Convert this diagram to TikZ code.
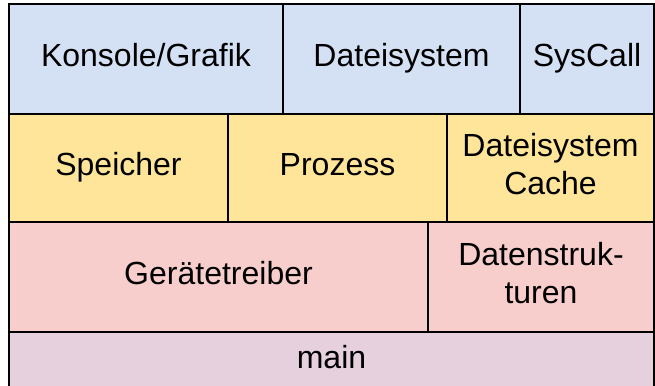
\documentclass[tikz,border=0pt]{standalone}
\usepackage{fontspec}
\setmainfont{Liberation Sans}
\definecolor{layerblue}{HTML}{D4E1F5}
\definecolor{layeryellow}{HTML}{FFE599}
\definecolor{layerpink}{HTML}{F8CECC}
\definecolor{layerviolet}{HTML}{E6D0DE}
\tikzset{
  layer/.style={draw=black, line width=2pt, rectangle, inner sep=0pt, outer sep=0pt},
  label text/.style={align=center, anchor=base, inner sep=0pt,
    font=\fontsize{32}{38}\selectfont},
}
% cell from (x1,y1) to (x2,y2), in pixel-like units (y downwards)
\newcommand\cell[6]{%
  \node[layer, fill=#2, minimum width={(#5-#3)*1pt}, minimum height={(#6-#4)*1pt}]
    (#1) at ({(#3+#5)/2},{(#4+#6)/2}) {};}
\begin{document}
\begin{tikzpicture}[x=1pt,y=-1pt]
  \useasboundingbox (0,0) rectangle (655,385);
  % top layer
  \cell{konsole}{layerblue}{9}{4}{283}{114}
  \cell{dateisystem}{layerblue}{283}{4}{520}{114}
  \cell{syscall}{layerblue}{520}{4}{654}{114}
  % second layer
  \cell{speicher}{layeryellow}{9}{114}{228}{222}
  \cell{prozess}{layeryellow}{228}{114}{447}{222}
  \cell{cache}{layeryellow}{447}{114}{654}{222}
  % third layer
  \cell{treiber}{layerpink}{9}{222}{428}{332}
  \cell{daten}{layerpink}{428}{222}{654}{332}
  % bottom layer
  \cell{main}{layerviolet}{9}{332}{654}{388}
  % labels, placed by the baseline of their last line
  \node[label text] at ([yshift=-7.5pt]konsole.center) {Konsole/Grafik};
  \node[label text] at ([yshift=-7.5pt]dateisystem.center) {Dateisystem};
  \node[label text] at ([yshift=-7.5pt]syscall.center) {SysCall};
  \node[label text] at ([yshift=-7.5pt]speicher.center) {Speicher};
  \node[label text] at ([yshift=-7.5pt]prozess.center) {Prozess};
  \node[label text] at ([yshift=-26pt]cache.center) {Dateisystem\\Cache};
  \node[label text] at ([yshift=-7.5pt]treiber.center) {Gerätetreiber};
  \node[label text] at ([yshift=-26.5pt]daten.center) {Datenstruk-\\turen};
  \node[label text] at ([yshift=-8pt]main.center) {main};
\end{tikzpicture}
\end{document}
